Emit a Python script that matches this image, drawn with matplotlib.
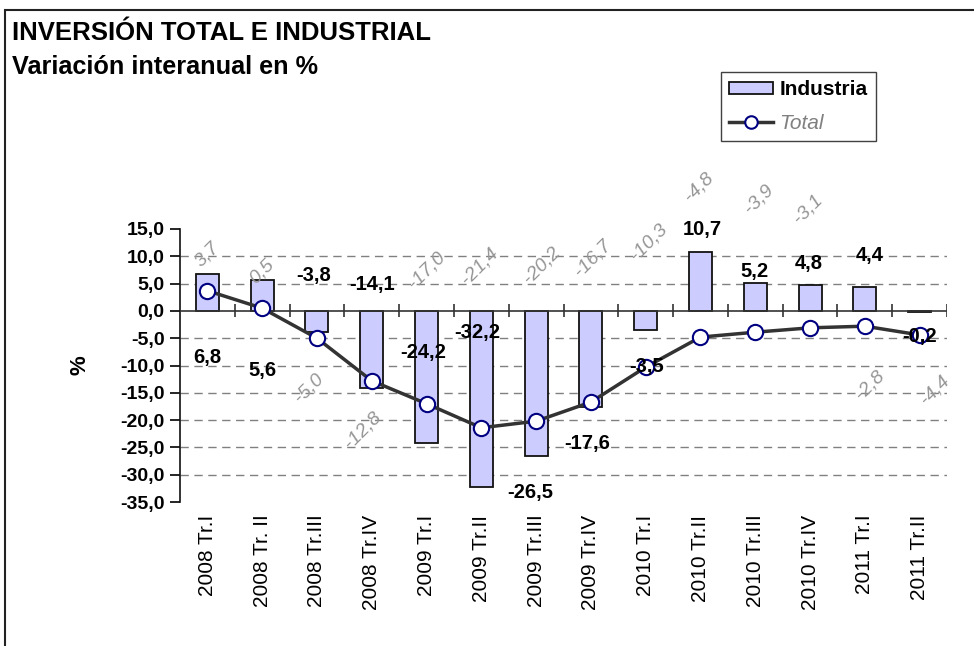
import matplotlib
matplotlib.use("Agg")
import matplotlib.pyplot as plt
from matplotlib.patches import Rectangle
from matplotlib.lines import Line2D
from matplotlib.patches import Patch

plt.rcParams['font.family'] = ['Liberation Sans', 'DejaVu Sans']

categories = ["2008 Tr.I", "2008 Tr. II", "2008 Tr.III", "2008 Tr.IV",
              "2009 Tr.I", "2009 Tr.II", "2009 Tr.III", "2009 Tr.IV",
              "2010 Tr.I", "2010 Tr.II", "2010 Tr.III", "2010 Tr.IV",
              "2011 Tr.I", "2011 Tr.II"]
industria = [6.8, 5.6, -3.8, -14.1, -24.2, -32.2, -26.5, -17.6,
             -3.5, 10.7, 5.2, 4.8, 4.4, -0.2]
total = [3.7, 0.5, -5.0, -12.8, -17.0, -21.4, -20.2, -16.7,
         -10.3, -4.8, -3.9, -3.1, -2.8, -4.4]
yticks = [15, 10, 5, 0, -5, -10, -15, -20, -25, -30, -35]

# label placement (layout, in data coords)
ind_lab_x = [0.0, 1.0, 1.93, 3.0, 3.94, 4.92, 5.89, 6.93, 8.02, 9.04, 9.99, 10.98, 12.09, 13.0]
ind_lab_y = [-8.6, -11.0, 6.4, 4.8, -7.7, -3.9, -33.2, -24.2, -10.1, 15.0, 7.2, 8.6, 10.1, -4.6]
tot_lab_x = [0.0, 1.0, 1.85, 2.84, 4.0, 4.97, 6.1, 7.04, 8.06, 8.97, 10.07, 10.96, 12.09, 13.28]
tot_lab_y = [10.3, 7.3, -14.1, -21.8, 7.5, 8.1, 8.3, 9.7, 12.5, 22.7, 20.4, 18.7, -13.6, -14.5]

def fmt(v):
    return f"{v:.1f}".replace(".", ",")

W, H = 974, 646
fig = plt.figure(figsize=(W / 100, H / 100), dpi=100)

# outer frame
fig.patches.append(Rectangle((5 / W, -0.05), 1.2, 1 - 10 / H + 0.05, transform=fig.transFigure,
                             fill=False, edgecolor='#222222', linewidth=1.5, clip_on=False))

fig.text(12 / W, 1 - 33 / H, "INVERSIÓN TOTAL E INDUSTRIAL", fontsize=18.5, fontweight='bold',
         ha='left', va='center')
fig.text(12 / W, 1 - 67 / H, "Variación interanual en %", fontsize=18.2, fontweight='bold',
         ha='left', va='center')

ax = fig.add_axes([180 / W, 1 - 502 / H, (947 - 180) / W, (502 - 229) / H])
x = list(range(len(categories)))

for t in yticks:
    if t not in (15, 0, -35):
        ax.axhline(t, color='#808080', linewidth=1, dashes=(6, 4), zorder=0)

ax.bar(x, industria, width=0.42, color='#CCCCFF', edgecolor='#111111', linewidth=1.3,
       zorder=2, label='Industria')
ax.axhline(0, color='#333333', linewidth=1.2, zorder=3)
ax.vlines([k + 0.5 for k in x], -1.2, 1.2, color='#333333', linewidth=1.2, zorder=3)
ax.plot(x, total, color='#333333', linewidth=2.5, marker='o', markersize=11,
        markerfacecolor='white', markeredgecolor='#000080', markeredgewidth=1.5, zorder=4,
        label='Total')

for i, v in enumerate(industria):
    ax.text(ind_lab_x[i], ind_lab_y[i], fmt(v), fontsize=14.5, fontweight='bold',
            ha='center', va='center', zorder=6)
for i, v in enumerate(total):
    ax.text(tot_lab_x[i], tot_lab_y[i], fmt(v), fontsize=14, style='italic', color='#969696',
            rotation=45, ha='center', va='center', rotation_mode='anchor', zorder=6)

ax.set_xlim(-0.5, 13.5)
ax.set_ylim(-35, 15)
ax.set_yticks(yticks)
ax.set_yticklabels([fmt(t) for t in yticks], fontsize=14, fontweight='bold')
ax.tick_params(axis='y', direction='out', length=7, width=1.2, pad=4)
ax.set_xticks(x)
ax.set_xticklabels(categories, rotation=90, fontsize=15, va='top', ha='center')
ax.tick_params(axis='x', length=0, pad=9)
for s in ['top', 'right', 'bottom']:
    ax.spines[s].set_visible(False)
ax.spines['left'].set_linewidth(1.2)
ax.spines['left'].set_color('#111111')
ax.patch.set_alpha(0)
ax.set_ylabel('%', fontsize=16, fontweight='bold')
ax.yaxis.set_label_coords((90 - 180) / 767, 0.5)

handles = [Patch(facecolor='#CCCCFF', edgecolor='#111111', linewidth=1.3),
           Line2D([0], [0], color='#333333', linewidth=2.5, marker='o', markersize=9,
                  markerfacecolor='white', markeredgecolor='#000080', markeredgewidth=1.5)]
leg = fig.legend(handles, ['Industria', 'Total'], loc='upper left',
                 bbox_to_anchor=(721 / W, 1 - 72 / H), fontsize=15, frameon=True,
                 fancybox=False, edgecolor='#111111', handlelength=2.1, handleheight=0.55,
                 borderpad=0.4, labelspacing=0.7, handletextpad=0.3, borderaxespad=0)
leg.get_frame().set_linewidth(1.0)
texts = leg.get_texts()
texts[0].set_fontweight('bold')
texts[1].set_style('italic')
texts[1].set_color('#808080')

fig.savefig("out.png", dpi=100)
